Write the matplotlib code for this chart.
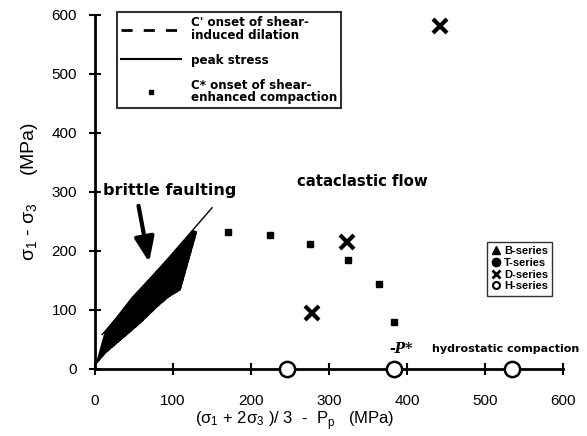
import matplotlib
matplotlib.use("Agg")
import matplotlib.pyplot as plt
from matplotlib.lines import Line2D

plt.rcParams["font.family"] = ["Liberation Sans", "DejaVu Sans"]

# peak stress envelope (solid line)
peak_x = [9, 150]
peak_y = [58, 273]

# brittle faulting region: upper edge along peak stress, lower edge C'
upper_x = [2, 13, 47, 94, 126, 130]
upper_y = [10, 62, 120, 187, 234, 232]
cprime_x = [2, 13, 28, 58, 79, 94, 109, 130]
cprime_y = [10, 27, 44, 78, 105, 122, 134, 232]

# C* onset of shear-enhanced compaction
cstar_x = [170, 224, 276, 324, 364, 383]
cstar_y = [232, 227, 212, 185, 144, 80]

# D-series points
d_x = [323, 278, 442]
d_y = [215, 95, 581]

# H-series hydrostatic points
h_x = [246, 383, 535]
h_y = [0, 0, 0]

fig = plt.figure(figsize=(5.87, 4.36), dpi=100)
ax = fig.add_axes([0.162, 0.154, 0.797, 0.812])

poly_x = upper_x + cprime_x[::-1]
poly_y = upper_y + cprime_y[::-1]
ax.fill(poly_x, poly_y, color="black", zorder=2)
ax.plot(cprime_x, cprime_y, color="black", ls="--", lw=1, zorder=2)
ax.plot(peak_x, peak_y, color="black", lw=1, zorder=2)

ax.plot(cstar_x, cstar_y, ls="none", marker="s", ms=5, color="black", zorder=3)
ax.plot(d_x, d_y, ls="none", marker="x", ms=10, mew=3, color="black", zorder=3)
ax.plot(h_x, h_y, ls="none", marker="o", ms=11, mfc="white", mec="black",
        mew=1.8, zorder=4, clip_on=False)

ax.set_xlim(0, 600)
ax.set_ylim(0, 600)
ax.set_xticks(range(0, 601, 100))
ax.set_yticks(range(0, 601, 100))
ax.tick_params(direction="inout", length=8, width=1.5, labelsize=11, pad=14)
ax.tick_params(axis="y", pad=9)
for s in ["top", "right"]:
    ax.spines[s].set_visible(False)
for s in ["left", "bottom"]:
    ax.spines[s].set_linewidth(2)

ax.set_xlabel(r"($\mathregular{\sigma_1}$ + 2$\mathregular{\sigma_3}$ )/ 3  -  P$_\mathregular{p}$   (MPa)",
              fontsize=12)
ax.xaxis.set_label_coords(0.427, -0.115)
ax.set_ylabel(r"$\mathregular{\sigma_1}$ - $\mathregular{\sigma_3}$     (MPa)",
              fontsize=14, labelpad=8)

# annotations
ax.text(10, 303, "brittle faulting", fontsize=11.5, fontweight="bold", va="center",
        family="DejaVu Sans")
ax.annotate("", xy=(70, 176), xytext=(55, 281),
            arrowprops=dict(arrowstyle="-|>,head_width=0.6,head_length=1.5",
                            color="black", lw=3))
ax.text(259, 317, "cataclastic flow", fontsize=10.7, fontweight="bold", va="center",
        family="DejaVu Sans")
ax.text(378, 34, "-P*", fontsize=10, fontweight="bold", style="italic",
        family="DejaVu Serif", va="center")
ax.text(432, 34, "hydrostatic compaction", fontsize=8.0, fontweight="bold",
        va="center", family="DejaVu Sans")

# legend for lines
h1 = [Line2D([], [], color="black", ls=(0, (4, 4)), lw=2),
      Line2D([], [], color="black", lw=1.5),
      Line2D([], [], color="black", ls="none", marker="s", ms=3)]
l1 = ["C' onset of shear-\ninduced dilation", "peak stress",
      "C* onset of shear-\nenhanced compaction"]
leg1 = ax.legend(h1, l1, loc="upper left", bbox_to_anchor=(0.047, 1.008),
                 prop={"family": "DejaVu Sans", "size": 8.6, "weight": "bold"},
                 frameon=True, fancybox=False, edgecolor="black", handlelength=5.0,
                 borderpad=0.35, labelspacing=1.0, borderaxespad=0)
for t in leg1.get_texts():
    t.set_linespacing(0.95)
leg1.get_frame().set_linewidth(1.5)
ax.add_artist(leg1)

h2 = [Line2D([], [], color="black", ls="none", marker="^", ms=6),
      Line2D([], [], color="black", ls="none", marker="o", ms=6),
      Line2D([], [], color="black", ls="none", marker="x", ms=6, mew=2),
      Line2D([], [], color="black", ls="none", marker="o", ms=5, mfc="white", mew=1.5)]
l2 = ["B-series", "T-series", "D-series", "H-series"]
leg2 = ax.legend(h2, l2, loc="upper left", bbox_to_anchor=(0.838, 0.359),
                 prop={"size": 8, "weight": "bold"}, frameon=True, fancybox=False,
                 edgecolor="black", handlelength=0.8, handletextpad=0.3,
                 borderpad=0.4, labelspacing=0.15, borderaxespad=0)
leg2.get_frame().set_linewidth(1)

fig.savefig("out.png", dpi=100)
